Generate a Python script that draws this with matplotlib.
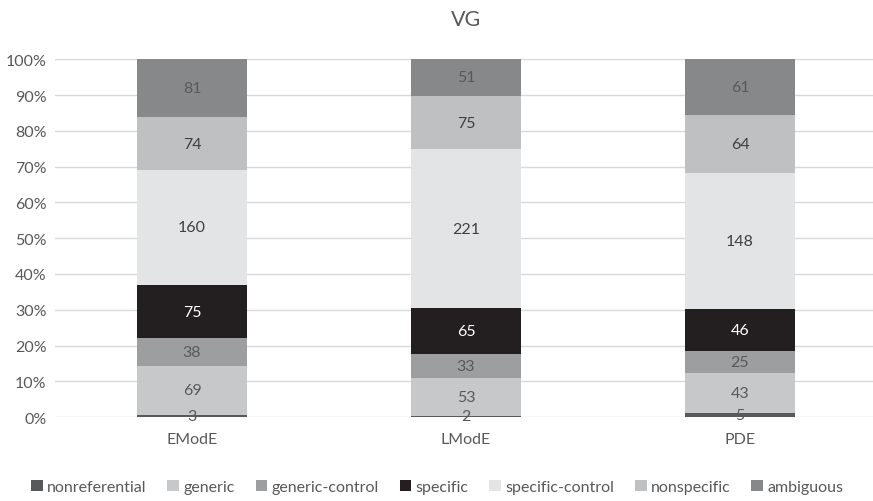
import matplotlib
matplotlib.use("Agg")
import matplotlib.pyplot as plt
import numpy as np

categories = ["EModE", "LModE", "PDE"]
series_names = ["nonreferential", "generic", "generic-control", "specific",
                "specific-control", "nonspecific", "ambiguous"]
nonreferential = [3, 2, 5]
generic = [69, 53, 43]
generic_control = [38, 33, 25]
specific = [75, 65, 46]
specific_control = [160, 221, 148]
nonspecific = [74, 75, 64]
ambiguous = [81, 51, 61]

series = [nonreferential, generic, generic_control, specific,
          specific_control, nonspecific, ambiguous]
colors = ["#58595B", "#C7C8CA", "#9D9EA0", "#231F20",
          "#E3E4E6", "#BFC0C2", "#87888A"]
label_colors = ["#595959", "#595959", "#595959", "#FFFFFF",
                "#404040", "#404040", "#595959"]

plt.rcParams["font.family"] = ["Lato", "DejaVu Sans"]

fig = plt.figure(figsize=(8.73, 5.02), dpi=100)
ax = fig.add_axes([0.063, 0.167, 0.9416, 0.713])

data = np.array(series, dtype=float)
totals = data.sum(axis=0)
shares = data / totals * 100
x = np.arange(len(categories))
bottom = np.zeros(len(categories))
for name, vals, pct, col, lc in zip(series_names, series, shares, colors, label_colors):
    ax.bar(x, pct, bottom=bottom, width=0.4, color=col, label=name, zorder=2)
    for xi, v, p, b in zip(x, vals, pct, bottom):
        ax.text(xi, b + p / 2, str(v), ha="center", va="center",
                fontsize=11.5, color=lc, zorder=3)
    bottom += pct

ax.set_xlim(-0.5, 2.5)
ax.set_ylim(0, 100)
ax.set_yticks(np.arange(0, 101, 10))
ax.set_yticklabels([f"{v}%" for v in range(0, 101, 10)])
ax.set_xticks(x)
ax.set_xticklabels(categories)
ax.grid(axis="y", color="#D9D9D9", linewidth=1, zorder=0)
for s in ax.spines.values():
    s.set_visible(False)
ax.tick_params(axis="y", length=0, labelsize=11.5, colors="#595959", pad=6)
ax.tick_params(axis="x", length=0, labelsize=11.5, colors="#595959", pad=11)

ax.set_title("VG", fontsize=15.5, color="#595959", pad=25)

ax.legend(loc="center", bbox_to_anchor=(0.465, -0.195), ncol=7,
          frameon=False, fontsize=11.5, labelcolor="#595959",
          handlelength=0.75, handleheight=0.75, handletextpad=0.25,
          columnspacing=1.3)

fig.savefig("out.png", dpi=100)
